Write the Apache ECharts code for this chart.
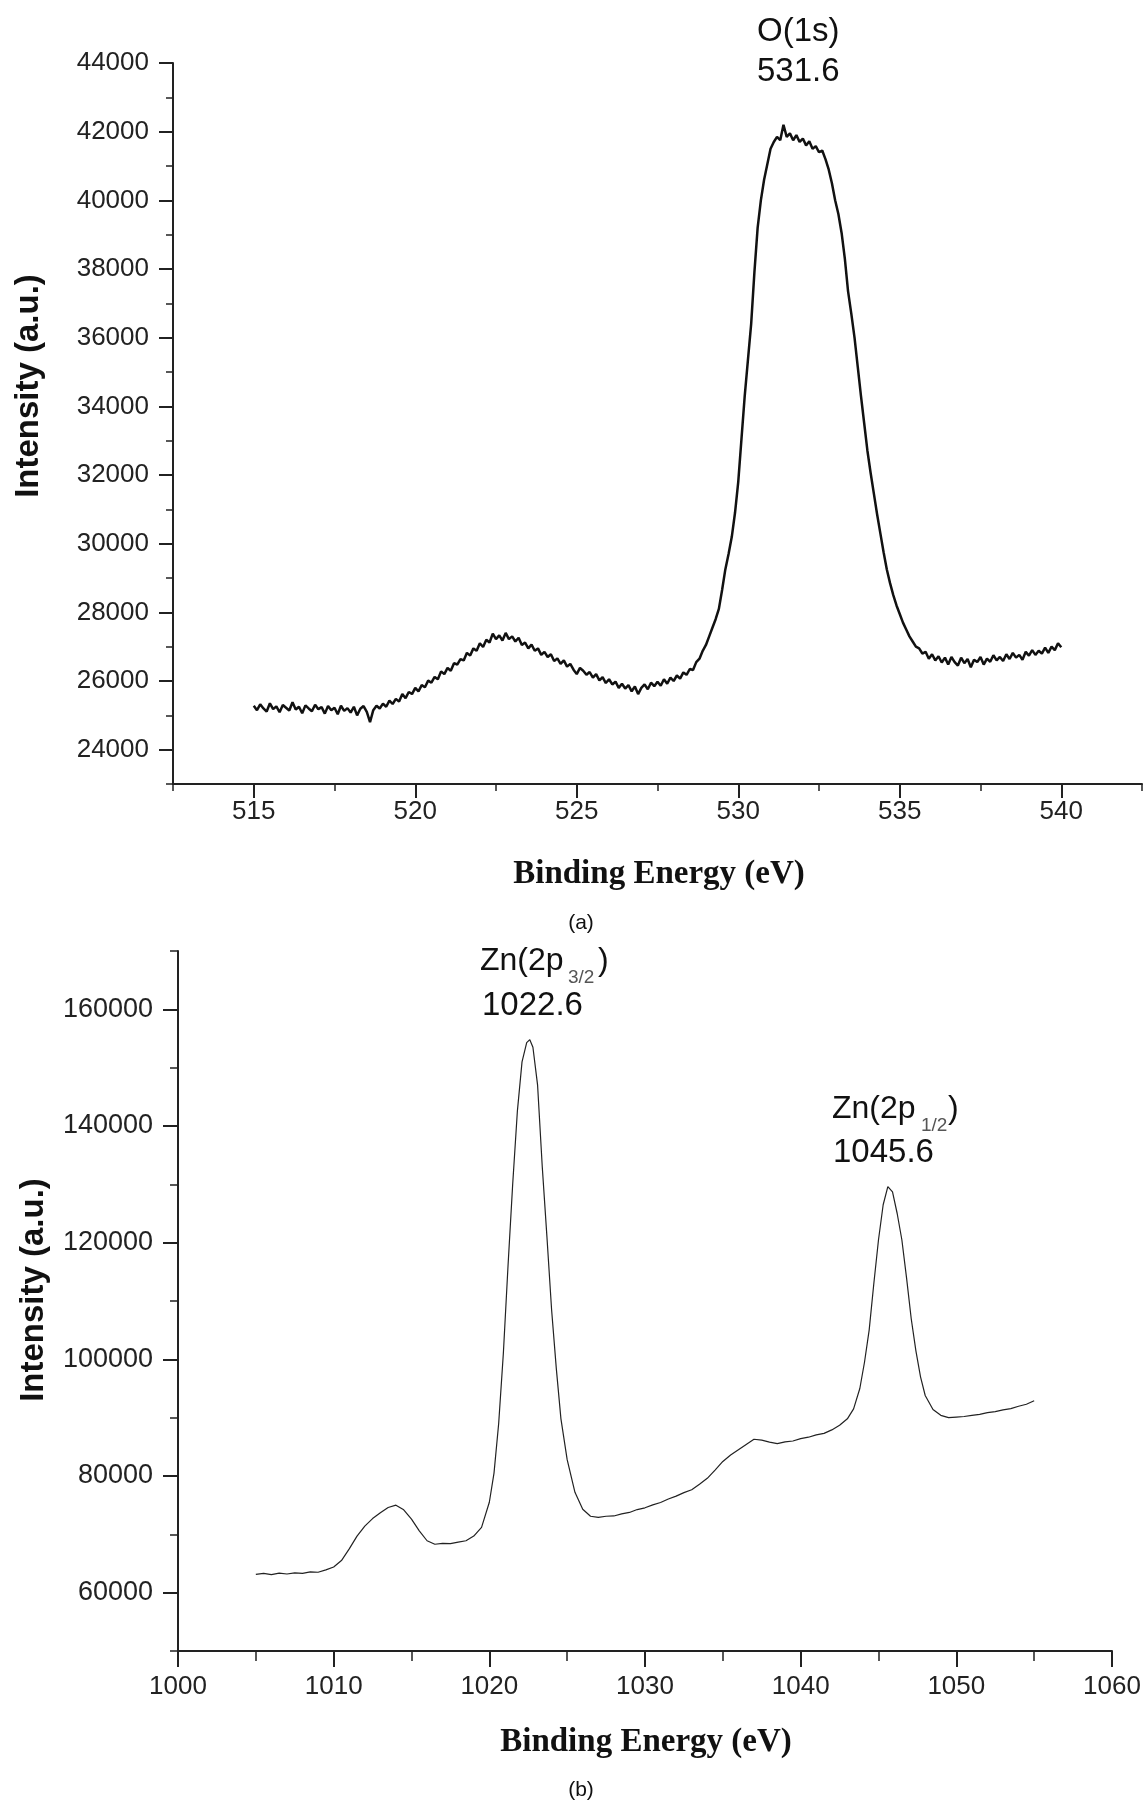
<!DOCTYPE html>
<html>
<head>
<meta charset="utf-8">
<script src="https://cdn.jsdelivr.net/npm/echarts@6/dist/echarts.min.js"></script>
<style>
html,body{margin:0;padding:0;background:#fff;}
#chart{width:1145px;height:1803px;}
</style>
</head>
<body>
<div id="chart"></div>
<script>
// ---- (a) O(1s) spectrum ----
const oEnergy = [
515.0,515.1,515.2,515.3,515.4,515.5,515.6,515.7,515.8,515.9,
516.0,516.1,516.2,516.3,516.4,516.5,516.6,516.7,516.8,516.9,
517.0,517.1,517.2,517.3,517.4,517.5,517.6,517.7,517.8,517.9,
518.0,518.1,518.2,518.3,518.4,518.5,518.6,518.7,518.8,518.9,
519.0,519.1,519.2,519.3,519.4,519.5,519.6,519.7,519.8,519.9,
520.0,520.1,520.2,520.3,520.4,520.5,520.6,520.7,520.8,520.9,
521.0,521.1,521.2,521.3,521.4,521.5,521.6,521.7,521.8,521.9,
522.0,522.1,522.2,522.3,522.4,522.5,522.6,522.7,522.8,522.9,
523.0,523.1,523.2,523.3,523.4,523.5,523.6,523.7,523.8,523.9,
524.0,524.1,524.2,524.3,524.4,524.5,524.6,524.7,524.8,524.9,
525.0,525.1,525.2,525.3,525.4,525.5,525.6,525.7,525.8,525.9,
526.0,526.1,526.2,526.3,526.4,526.5,526.6,526.7,526.8,526.9,
527.0,527.1,527.2,527.3,527.4,527.5,527.6,527.7,527.8,527.9,
528.0,528.1,528.2,528.3,528.4,528.5,528.6,528.7,528.8,528.9,
529.0,529.1,529.2,529.3,529.4,529.5,529.6,529.7,529.8,529.9,
530.0,530.1,530.2,530.3,530.4,530.5,530.6,530.7,530.8,530.9,
531.0,531.1,531.2,531.3,531.4,531.5,531.6,531.7,531.8,531.9,
532.0,532.1,532.2,532.3,532.4,532.5,532.6,532.7,532.8,532.9,
533.0,533.1,533.2,533.3,533.4,533.5,533.6,533.7,533.8,533.9,
534.0,534.1,534.2,534.3,534.4,534.5,534.6,534.7,534.8,534.9,
535.0,535.1,535.2,535.3,535.4,535.5,535.6,535.7,535.8,535.9,
536.0,536.1,536.2,536.3,536.4,536.5,536.6,536.7,536.8,536.9,
537.0,537.1,537.2,537.3,537.4,537.5,537.6,537.7,537.8,537.9,
538.0,538.1,538.2,538.3,538.4,538.5,538.6,538.7,538.8,538.9,
539.0,539.1,539.2,539.3,539.4,539.5,539.6,539.7,539.8,539.9,
540.0];
const oIntensity = [
25280,25150,25320,25200,25110,25350,25180,25260,25090,25300,
25220,25140,25380,25170,25250,25060,25290,25200,25120,25310,
25180,25240,25050,25270,25150,25220,25030,25280,25130,25210,
25080,25250,25000,25190,25270,25100,24800,25150,25280,25200,
25340,25250,25430,25330,25480,25400,25620,25500,25680,25620,
25800,25700,25880,25820,26010,25950,26120,26050,26280,26200,
26380,26300,26520,26480,26640,26600,26820,26740,26950,26880,
27100,26990,27200,27120,27380,27220,27330,27180,27400,27220,
27300,27150,27260,27050,27120,26950,27060,26880,26950,26760,
26850,26700,26780,26580,26660,26500,26600,26420,26500,26330,
26200,26380,26300,26180,26260,26100,26200,26020,26110,25940,
26050,25900,25980,25800,25920,25780,25880,25700,25840,25620,
25800,25900,25760,25950,25850,25980,25860,26050,25920,26100,
26000,26160,26070,26250,26180,26350,26320,26550,26650,26880,
27050,27300,27550,27800,28100,28650,29250,29700,30200,30900,
31800,33050,34300,35350,36400,37900,39200,40000,40600,41050,
41500,41700,41850,41750,42200,41850,41950,41750,41900,41700,
41800,41600,41720,41500,41580,41400,41450,41200,40900,40500,
40000,39600,39050,38300,37350,36700,36000,35150,34300,33500,
32700,32050,31450,30850,30300,29750,29250,28850,28500,28200,
27950,27700,27500,27300,27150,27000,26950,26800,26850,26650,
26780,26600,26720,26540,26680,26480,26700,26550,26450,26680,
26520,26640,26400,26620,26550,26700,26480,26650,26560,26750,
26600,26700,26580,26780,26640,26820,26680,26760,26620,26850,
26740,26900,26760,26880,26800,26970,26820,27000,26900,27100,
26980];
const oXTicks = [515,520,525,530,535,540];
const oYTicks = [24000,26000,28000,30000,32000,34000,36000,38000,40000,42000,44000];

// ---- (b) Zn(2p) spectrum ----
const znEnergy = [1005.0,1005.5,1006.0,1006.5,1007.0,1007.5,1008.0,1008.5,1009.0,1009.5,1010.0,1010.5,1011.0,1011.5,1012.0,1012.5,1013.0,1013.5,1014.0,1014.5,1015.0,1015.5,1016.0,1016.5,1017.0,1017.5,1018.0,1018.5,1019.0,1019.5,1020.0,1020.3,1020.6,1020.9,1021.2,1021.5,1021.8,1022.1,1022.4,1022.6,1022.8,1023.1,1023.4,1023.7,1024.0,1024.3,1024.6,1025.0,1025.5,1026.0,1026.5,1027.0,1027.5,1028.0,1028.5,1029.0,1029.5,1030.0,1030.5,1031.0,1031.5,1032.0,1032.5,1033.0,1033.5,1034.0,1034.5,1035.0,1035.5,1036.0,1036.5,1037.0,1037.5,1038.0,1038.5,1039.0,1039.5,1040.0,1040.5,1041.0,1041.5,1042.0,1042.5,1043.0,1043.4,1043.8,1044.1,1044.4,1044.7,1045.0,1045.3,1045.6,1045.9,1046.2,1046.5,1046.8,1047.1,1047.4,1047.7,1048.0,1048.5,1049.0,1049.5,1050.0,1050.5,1051.0,1051.5,1052.0,1052.5,1053.0,1053.5,1054.0,1054.5,1055.0];
const znIntensity = [63150,63300,63100,63350,63200,63400,63300,63550,63500,63900,64400,65500,67500,69700,71400,72700,73700,74600,75000,74200,72600,70600,68900,68300,68450,68400,68650,68900,69700,71200,75500,80500,89000,101000,116000,130000,142500,151000,154300,154800,153500,147000,133000,121000,108500,98500,89800,82800,77200,74300,73100,72900,73100,73150,73500,73750,74250,74550,75050,75450,76050,76550,77150,77650,78600,79600,81000,82500,83600,84500,85400,86300,86150,85800,85550,85850,86000,86400,86650,87050,87300,87900,88700,89800,91500,95000,99500,105000,113000,120500,126500,129600,128700,125000,120500,114000,107000,101500,97000,93800,91400,90400,90000,90100,90200,90400,90550,90850,91050,91350,91550,91950,92300,92900];
const znXTicks = [1000,1010,1020,1030,1040,1050,1060];
const znYTicks = [60000,80000,100000,120000,140000,160000];

const SANS = '"Liberation Sans", Arial, sans-serif';
const SERIF = '"Liberation Serif", "Times New Roman", serif';
const AX = '#222';

function majorAxis(gridIndex, min, max, ticks, len, margin, fs, pos) {
  return {
    gridIndex, type: 'value', min, max, position: pos,
    axisLine: {show: true, onZero: false, lineStyle: {color: AX, width: 2}},
    axisTick: {show: true, customValues: ticks, length: len, lineStyle: {color: AX, width: 2}},
    axisLabel: {show: true, customValues: ticks, margin, fontSize: fs, color: '#222', fontFamily: SANS,
                formatter: (v) => String(v)},
    splitLine: {show: false}
  };
}
function minorAxis(gridIndex, min, max, interval, len, pos) {
  return {
    gridIndex, type: 'value', min, max, interval, position: pos,
    axisLine: {show: false, onZero: false},
    axisTick: {show: true, length: len, lineStyle: {color: AX, width: 1.5}},
    axisLabel: {show: false},
    splitLine: {show: false}
  };
}

const txt = (x, y, text, font, opts) => Object.assign({
  type: 'text', x, y, silent: true,
  style: Object.assign({text, font, fill: '#111', align: 'left', verticalAlign: 'middle'}, (opts && opts.style) || {})
}, (opts && opts.el) || {});

const option = {
  animation: false,
  backgroundColor: '#fff',
  grid: [
    {left: 173, top: 63, width: 969, height: 721},
    {left: 178, top: 951, width: 934, height: 700}
  ],
  xAxis: [
    majorAxis(0, 512.5, 542.5, oXTicks, 14, 15, 26, 'bottom'),
    minorAxis(0, 512.5, 542.5, 2.5, 7, 'bottom'),
    majorAxis(1, 1000, 1060, znXTicks, 16, 23, 26, 'bottom'),
    minorAxis(1, 1000, 1060, 5, 10, 'bottom')
  ],
  yAxis: [
    majorAxis(0, 23000, 44000, oYTicks, 14, 24, 26, 'left'),
    minorAxis(0, 23000, 44000, 1000, 7, 'left'),
    majorAxis(1, 50000, 170000, znYTicks, 15, 25, 27, 'left'),
    minorAxis(1, 50000, 170000, 10000, 8, 'left')
  ],
  series: [
    {
      type: 'line', xAxisIndex: 0, yAxisIndex: 0, showSymbol: false, symbol: 'none',
      lineStyle: {color: '#111', width: 2.5},
      data: oEnergy.map((e, i) => [e, oIntensity[i]])
    },
    {
      type: 'line', xAxisIndex: 2, yAxisIndex: 2, showSymbol: false, symbol: 'none',
      lineStyle: {color: '#222', width: 1.2},
      data: znEnergy.map((e, i) => [e, znIntensity[i]])
    }
  ],
  graphic: [
    txt(29, 386, 'Intensity (a.u.)', 'bold 33px ' + SANS, {style: {align: 'center'}, el: {rotation: Math.PI / 2}}),
    txt(34, 1290, 'Intensity (a.u.)', 'bold 33px ' + SANS, {style: {align: 'center'}, el: {rotation: Math.PI / 2}}),
    txt(659, 874, 'Binding Energy (eV)', 'bold 33px ' + SERIF, {style: {align: 'center'}}),
    txt(646, 1742, 'Binding Energy (eV)', 'bold 33px ' + SERIF, {style: {align: 'center'}}),
    txt(581, 923, '(a)', '21px ' + SANS, {style: {align: 'center'}}),
    txt(581, 1790, '(b)', '21px ' + SANS, {style: {align: 'center'}}),
    txt(757, 31.5, 'O(1s)', '33px ' + SANS),
    txt(757, 71.5, '531.6', '33px ' + SANS),
    txt(480, 961, 'Zn(2p', '32px ' + SANS),
    txt(568, 978, '3/2', '19px ' + SANS, {style: {fill: '#555'}}),
    txt(598, 961, ')', '32px ' + SANS),
    txt(482, 1006, '1022.6', '33px ' + SANS),
    txt(832, 1109, 'Zn(2p', '32px ' + SANS),
    txt(921, 1126, '1/2', '19px ' + SANS, {style: {fill: '#555'}}),
    txt(948, 1109, ')', '32px ' + SANS),
    txt(833, 1152.5, '1045.6', '33px ' + SANS)
  ]
};

const chart = echarts.init(document.getElementById('chart'), null, {renderer: 'canvas'});
chart.setOption(option);
</script>
</body>
</html>
